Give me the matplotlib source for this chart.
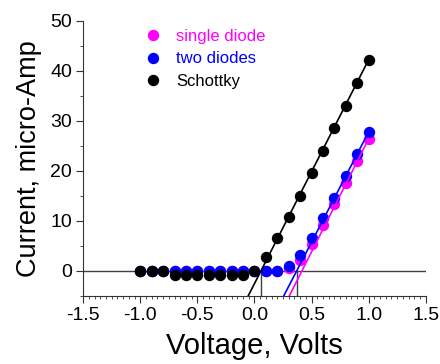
import matplotlib.pyplot as plt
import numpy as np

plt.rcParams['font.family'] = ['Liberation Sans', 'DejaVu Sans']

# voltage steps (V)
volts = np.round(np.arange(-1.0, 1.001, 0.1), 2)

# current (micro-Amp)
single_diode = [0, 0, 0, 0, 0, 0, 0, 0, 0, 0, 0, 0, 0, 0.5, 2.1, 5.4, 9.2, 13.3, 17.6, 21.9, 26.4]
two_diodes = [0, 0, 0, 0, 0, 0, 0, 0, 0, 0, 0, 0, 0, 0.9, 3.1, 6.6, 10.5, 14.6, 18.9, 23.4, 27.8]
schottky = [0, 0, 0, -0.9, -0.9, -0.9, -0.9, -0.9, -0.9, -0.9, 0, 2.8, 6.6, 10.8, 14.9, 19.5, 23.9, 28.5, 33.0, 37.6, 42.2]

# linear fits: (x-intercept, slope)
fit_single = (0.416, 45.2)
fit_two = (0.37, 44.1)
fit_schottky = (0.057, 44.75)

# threshold markers drawn down to the axis
thresholds = [0.057, 0.37]

fig = plt.figure(figsize=(4.4, 3.64), dpi=100)
ax = fig.add_axes([0.189, 0.187, 0.7785, 0.756])

ax.axhline(0, color='#404040', lw=1.0, zorder=1)
for t in thresholds:
    ax.plot([t, t], [0, -5], color='#404040', lw=1.0, zorder=1)

ax.plot(volts, single_diode, 'o', color='#ff00ff', ms=8.2, mec='none', label='single diode', zorder=2)
ax.plot(volts, two_diodes, 'o', color='#0000ff', ms=8.2, mec='none', label='two diodes', zorder=3)
ax.plot(volts, schottky, 'o', color='black', ms=8.2, mec='none', label='Schottky', zorder=4)

xf = np.linspace(-0.3, 1.0, 50)
for (x0, k), c in [(fit_single, '#ff00ff'), (fit_two, '#0000ff'), (fit_schottky, 'black')]:
    ax.plot(xf, k * (xf - x0), color=c, lw=1.2, zorder=5)

ax.set_xlim(-1.5, 1.5)
ax.set_ylim(-5, 50)
ax.set_xticks(np.arange(-1.5, 1.51, 0.5))
ax.set_xticks(np.arange(-1.5, 1.51, 0.05), minor=True)
ax.set_yticks(np.arange(0, 51, 10))
ax.set_yticks(np.arange(-5, 51, 5), minor=True)
ax.xaxis.set_major_formatter(plt.FormatStrFormatter('%.1f'))

for s in ['top', 'right']:
    ax.spines[s].set_visible(False)
for s in ['left', 'bottom']:
    ax.spines[s].set_linewidth(0.8)
    ax.spines[s].set_color('#333333')

ax.tick_params(which='major', direction='out', length=5, width=0.8, labelsize=14, color='#333333', pad=3)
ax.tick_params(which='minor', direction='out', length=2.5, width=0.6, color='#333333')

ax.set_xlabel('Voltage, Volts', fontsize=21, labelpad=6)
ax.set_ylabel('Current, micro-Amp', fontsize=19.5, labelpad=6)

leg = ax.legend(loc='upper left', bbox_to_anchor=(0.13, 1.025), frameon=False,
                fontsize=12, handletextpad=0.8, labelspacing=0.45, markerscale=1.0,
                handlelength=1.2, labelcolor='linecolor')

plt.savefig('out.png', dpi=100)
plt.close()
